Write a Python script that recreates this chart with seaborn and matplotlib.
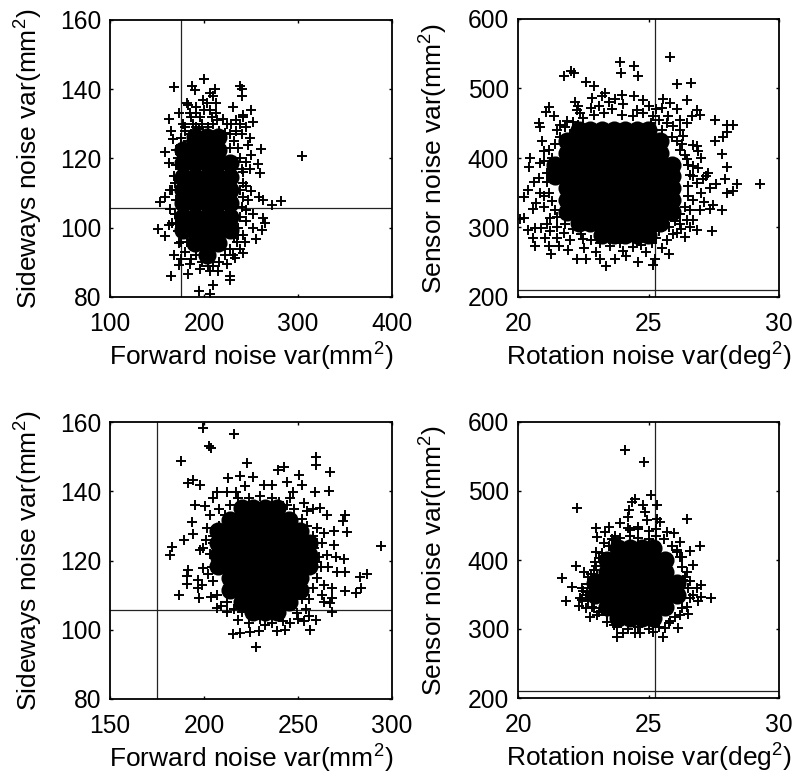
import matplotlib
matplotlib.use("Agg")
import matplotlib.pyplot as plt
import pandas as pd
import seaborn as sns

sns.set_style("white")
plt.rcParams.update({
    "font.family": ["Liberation Sans", "DejaVu Sans"],
    "mathtext.fontset": "custom",
    "mathtext.rm": "Liberation Sans",
    "mathtext.default": "regular",
})

# ---------- data ----------
# scattered, individually visible samples (x, y)
fwd_side_a = [(200,143),(168,140.6),(187,140.8),(190.5,139.8),(238,141),(240,140),(240,138),(212,140),(206.5,138.8),
 (231,135),(250,134),(183,135.5),(173,133),(163,131.4),(252,130.5),(242,132.6),(165,128),(167,125.7),(158.6,122),
 (163,118.6),(261,122.7),(257,118.5),(260,115.8),(304,120.8),(282,107.6),(272,106.6),(263,107.9),(259,109),
 (153,107.3),(158.6,108.8),(164,111),(151.5,99.7),(158,97.7),(163,100.8),(263,102.8),(265,101.3),(261.5,99.4),
 (255.5,96.7),(243.8,95.8),(242,92.6),(233,91.2),(168,92.2),(173.8,89.3),(165,86.2),(183.4,86.6),(228,86.2),(228,85),
 (210,83.5),(195,81.6),(206,81),(182,136),(192,135),(199,137),(210,138),(206,134),(196,132),(188,130),(213,133),
 (224,130),(234,131),(242,132),(245,129),(238,130),(229,130),(249,126),(247,124),(250,121),(245,119),(242,116),
 (249,117),(245,112),(250,110.5),(247,108),(245,105),(252,104),(245,102),(252,100),(242,98),(235,96),(238,94),
 (231,92),(224,89.5),(215,87.5),(206,87.5),(196,88),(185,89.5),(176,91),(173,95.5),(166,101.5),(164,105.5),
 (166,111),(168,115),(170,122.5),(175,126),(178,130),(185,133),(213,136)]
rot_sens_a = [(25.82,546),(23.91,538),(23.95,522),(24.46,532),(24.61,518),(21.75,517.5),(22.03,525),(22.13,523),
 (22.6,510),(22.93,503),(26.08,506.5),(26.61,508),(26.46,483),(21.17,474),(21.07,466),(21.39,461),(20.79,450),
 (20.83,445),(27.54,454),(27.99,448),(28.24,448),(27.99,438),(27.86,430),(27.54,425),(27.8,406),(27.99,387),
 (27.92,370),(28.4,363),(29.29,362),(27.58,363),(28.24,352),(27.99,349),(27.8,325),(27.45,294.5),(27.35,326),
 (27.48,333),(27.12,337),(27.29,378),(27.35,357),(27.03,400),(20.47,400),(20.41,387),(20.38,354.5),(20.22,344),
 (20.57,327),(20.09,312),(20.22,314),(20.38,296),(20.66,299),(20.89,299),(20.56,285),(20.64,274),(21.02,285),
 (21.24,294.5),(21.17,273),(21.26,262),(21.59,273),(21.9,268),(22.25,254),(22.61,254),(23.15,254),(23.38,244),
 (23.72,254),(24.13,258.5),(24.61,251),(25.19,246.5),(25.25,254),(25.8,262),(26.23,298),(23.34,493.5),(22.83,486),
 (23.21,489),(23.72,485),(24.04,477),(24.45,489),(24.78,484),(24.55,469.5),(25.19,460),(25.57,485),(25.82,479),
 (25.5,472),(26.08,470),(25.76,460),(25.95,445.5),(26.84,469.5),(26.97,462),(26.65,460),(26.46,450),(26.33,432),
 (26.71,419),(26.84,417),(20.92,424),(21,410),(21.17,412),(21.62,448),(22.38,465),(22.25,469.5),(21.87,453),
 (21.1,378.5),(20.8,371),(20.85,350),(21.3,338),(21.24,314),(21.75,292),(22,282.5),(22.51,270.5),(23.15,278),
 (23.53,273),(24.04,266),(24.55,282.5),(25.12,278),(25.69,282.5),(26.08,292),(26.4,287),(26.84,297),(26.71,311),
 (26.46,311),(26.97,325.5),(26.71,340),(26.84,364),(27.22,374),(26.71,388),(26.46,398),(26.2,412),(26.7,374),(20.85,393)]
fwd_side_b = [(199.7,158.3),(216.2,156.5),(202.4,153),(203.8,152.5),(187.6,148.6),(222.8,148.1),(259.7,150),(259.7,147.7),
 (239.6,146.2),(242.8,147),(250.3,144.8),(267.2,145.5),(191.7,142.4),(194.3,143.3),(197.9,141.9),(212.5,143.8),
 (219.2,144.3),(226,144.1),(221.9,141.4),(231.7,141.9),(236,141.9),(244,142.8),(252,141.7),(259.2,139.8),(266.3,140.1),
 (206.8,139.8),(212.1,139.8),(217.1,139.8),(195.3,135.9),(200.6,135.6),(275.1,133),(273.7,131.5),(193.5,131.1),
 (194.4,127.6),(276,128.2),(189.4,125.8),(182.8,123.9),(182,121.6),(197.9,123.1),(294.3,124.3),(274.3,120.5),(275.1,116.6),
 (286.7,116.1),(282.8,115.1),(283.5,112),(281,110.5),(275.1,111.2),(191.7,117.3),(191.2,115.4),(190.8,113.2),(186.9,110.1),
 (197,114.4),(197,112),(197.6,109.1),(203.6,109.6),(268,109.1),(267.2,107.7),(268,105.2),(259.7,102.8),(256.5,99.9),
 (253,102.4),(243.2,99.9),(238.8,99.5),(229,99.5),(224.6,99.3),(219.2,99),(215.3,98.8),(227.4,95.1),(218.3,102.8),
 (232.5,101.4),(249.4,104.8),(263.6,113),(270.7,116.8),(269,128.4),(265.4,133.2),(261.8,135.1),(253,136.6),(247.6,139.9),
 (203.3,133.2),(205,138),(201.5,129.3),(199.7,123.6),(199.7,117.8),(206.8,106.2),(212.1,105.2),(258.3,123.6),(265.4,121.6),
 (269,124.5),(260,129.3),(254.7,134.2)]
rot_sens_b = [(24.1,559),(24.83,542),(22.25,476),(25.08,494),(24.48,489),(24.36,484),(24.8,479.5),(24.87,470),(25.31,479.5),
 (24.25,472),(24.23,463),(24.93,458),(25.31,460),(25.44,455),(23.91,453),(23.47,448),(23.34,441),(22.98,446),(23.04,434),
 (24.23,446),(24.61,448),(26.46,459),(25.69,441),(25.98,438.5),(26.2,426.5),(26.97,420),(26.59,413),(26.27,405),(22.99,412),
 (22.96,397.6),(22.23,392),(22.51,383),(22.7,376),(21.68,373.5),(22.06,360.5),(22.45,360),(21.82,340),(22.32,333.5),
 (22.45,342),(22.76,318),(22.83,332.5),(26.71,393),(26.33,371),(27.03,364),(26.84,359),(27.03,347),(27.38,345.5),(26.9,340),
 (26.52,321.5),(26.46,332.5),(26.14,301),(25.63,301),(25.54,288),(25.16,296),(24.68,294),(24.48,294),(24.04,294),(23.81,289),
 (23.66,306),(23.02,320.5),(23.4,320.5),(26.2,320.5),(26.71,349),(26.46,383),(26.08,412),(23.66,429),(23.02,378),(22.64,354),
 (22.38,344.5),(25.82,311)]

# samples in the crowded band between the saturated core and the loose edge
band_fs_a = [(180,128),(186,127),(192,129),(198,130),(204,129),(210,130),(216,128),(222,127.5),(228,127),(234,128),(240,127),
 (186,132),(192,133),(200,134),(208,132),(214,131),(220,131.5),(203,136),(195,128.5),(183,125),(176,124),(172,120),(170,118),
 (169,113),(170,108),(169,104),(172,99),(176,96),(180,93),(186,91),(192,92),(198,90),(204,89),(210,89),(216,90),(222,92),
 (228,94),(232,97),(236,100),(238,103),(240,106),(241,109),(242,113),(240,117),(238,120),(236,123),(232,125),(228,123),
 (234,119),(238,111),(236,98),(182,96),(176,101),(170,101),(180,129)]
band_rs_a = [(21.5,440),(21.8,445),(22.1,452),(22.5,458),(22.9,462),(23.3,465),(23.6,470),(23.1,475),(22.8,472),(24.0,462),
 (24.4,460),(24.8,465),(25.1,450),(25.4,455),(25.7,450),(25.5,440),(25.9,430),(26.1,425),(26.3,420),(26.4,405),(26.5,390),
 (26.6,375),(26.5,360),(26.5,345),(26.4,330),(26.2,320),(26.0,310),(25.8,300),(25.4,295),(25,290),(25.3,285),(24.7,275),
 (24.4,272),(23.9,278),(23.5,283),(23.1,287),(22.8,282),(22.4,290),(22.1,298),(21.8,305),(21.5,315),(21.4,325),(21.2,350),
 (21.1,365),(21.0,395),(21.3,400),(21.4,420),(21.6,430),(22.0,435),(22.3,448),(20.6,365),(20.7,335),(21,330),(21.1,305),
 (21.5,300),(27,350),(26.9,385),(27.1,370),(26.6,325),(26.6,300),(26.2,305),(25.95,290),(25.5,270),(23,265),(22.5,283),
 (24.9,265),(21.5,285),(21.0,345),(26.9,410),(26.2,440),(26.2,455),(25.3,470),(25,475),(24,490),(23.5,480),(22.2,480),(22.3,475)]
band_fs_b = [(201,126),(203,122),(204,118),(205,114),(207,110),(209,107),(212,108),(208,130),(211,133),(214,136),(218,138),
 (224,138),(230,138.5),(236,138),(240,137),(244,136),(248,135),(252,132),(255,130),(258,127),(260,125),(261,121),(262,118),
 (260,115),(258,112),(256,109),(254,106),(250,103),(246,102),(242,102.5),(236,102),(230,103),(224,102),(220,105),(216,106),
 (263,125),(266,118),(268,112),(264,108),(270,121),(205,125),(202,116),(199,113),(205,127),(208,135),(264,128),(258,135),
 (246,138),(260,119.5),(256,104),(263,110),(252,109),(208,121)]
band_rs_b = [(23.6,430),(23.9,432),(24.3,435),(24.6,432),(25,430),(25.3,435),(25.6,430),(25.9,420),(26.2,405),(26.3,390),
 (26.4,375),(26.5,360),(26.3,345),(26.3,330),(26,318),(25.8,308),(25.4,303),(25,300),(24.6,303),(24.2,300),(23.8,303),
 (23.4,310),(23.1,325),(22.9,330),(22.7,340),(22.6,350),(22.7,365),(22.8,380),(23,392),(23.2,410),(23.5,420),(23.4,400),
 (24.6,445),(25,442),(24.3,443),(25.3,445),(26.1,415),(26.6,370),(26.6,345),(22.5,355),(23.1,403),(22.9,385),(23.3,425),
 (23.7,435),(22.6,330)]

# saturated core of each cloud, as sample rows {y: [x, ...]}
core_fs_a = {
 126.3: [190.5,203,215.4],
 122.5: [178,190.5,203,215.4],
 118.6: [178,190.5,203,215.4,227.8],
 114.8: [178,190.5,203,215.4,227.8],
 110.9: [178,190.5,203,215.4,227.8],
 107.1: [178,190.5,203,215.4,227.8],
 103.2: [178,190.5,203,215.4,227.8],
 99.4:  [178,190.5,203,215.4,227.8],
 95.5:  [190.5,203,215.4],
 92.2:  [203],
}
core_rs_a = {
 440.8: [22.32,22.76,23.21,23.66,24.1,24.55,24.99],
 424.0: [21.87,22.32,22.76,23.21,23.66,24.1,24.55,24.99,25.44],
 407.0: [21.87,22.32,22.76,23.21,23.66,24.1,24.55,24.99,25.44],
 390.4: [21.43,21.87,22.32,22.76,23.21,23.66,24.1,24.55,24.99,25.44,25.89],
 373.6: [21.43,21.87,22.32,22.76,23.21,23.66,24.1,24.55,24.99,25.44,25.89],
 356.8: [21.87,22.32,22.76,23.21,23.66,24.1,24.55,24.99,25.44,25.89],
 340.0: [21.87,22.32,22.76,23.21,23.66,24.1,24.55,24.99,25.44,25.89],
 323.0: [21.87,22.32,22.76,23.21,23.66,24.1,24.55,24.99,25.44,25.89],
 306.5: [22.32,22.76,23.21,23.66,24.1,24.55,24.99,25.44],
 289.7: [23.21,23.66,24.1,24.55,24.99],
}
core_fs_b = {
 135.1: [220.1,226.3,232.5,238.8],
 131.8: [213.9,220.1,226.3,232.5,238.8,245],
 128.4: [207.7,213.9,220.1,226.3,232.5,238.8,245,251.2],
 125.0: [207.7,213.9,220.1,226.3,232.5,238.8,245,251.2,255.6],
 121.6: [207.7,213.9,220.1,226.3,232.5,238.8,245,251.2,255.6],
 118.3: [207.7,213.9,220.1,226.3,232.5,238.8,245,251.2,255.6],
 114.9: [213.9,220.1,226.3,232.5,238.8,245,251.2],
 111.5: [213.9,220.1,226.3,232.5,238.8,245,251.2],
 108.1: [220.1,226.3,232.5,238.8,245],
 105.2: [226.3,232.5,238.8],
}
core_rs_b = {
 417.0: [23.85,24.29,24.74,25.19],
 400.0: [23.4,23.85,24.29,24.74,25.19,25.63],
 383.0: [23.4,23.85,24.29,24.74,25.19,25.63],
 366.0: [22.96,23.4,23.85,24.29,24.74,25.19,25.63,26.08],
 349.0: [22.96,23.4,23.85,24.29,24.74,25.19,25.63,26.08],
 332.5: [23.4,23.85,24.29,24.74,25.19,25.63],
 315.6: [23.85,24.29,24.74,25.19],
}

forward_true = 175
sideways_true = 105.8
rotation_true = 25.25
sensor_true = 210

xlabel_fs = "Forward noise var(mm$^2$)"
ylabel_fs = "Sideways noise var(mm$^2$)"
xlabel_rs = "Rotation noise var(deg$^2$)"
ylabel_rs = "Sensor noise var(mm$^2$)"

xticks_fs_a = [100, 200, 300, 400]
xticks_fs_b = [150, 200, 250, 300]
yticks_fs = [80, 100, 120, 140, 160]
xticks_rs = [20, 25, 30]
yticks_rs = [200, 300, 400, 500, 600]

# ---------- drawing ----------
W, H = 797, 781
fig = plt.figure(figsize=(W / 100, H / 100), dpi=100)


def panel(box, pts, band, core, xt, yt, xl, yl, vx, hy, ylabel_px):
    l, t, r, b = box
    ax = fig.add_axes([l / W, 1 - b / H, (r - l) / W, (b - t) / H])
    core_df = pd.DataFrame([(x, y) for y, xs in core.items() for x in xs], columns=["x", "y"])
    pts_df = pd.DataFrame(pts + band, columns=["x", "y"])
    sns.scatterplot(data=core_df, x="x", y="y", ax=ax, marker="o", s=170, color="black", linewidth=0, zorder=3)
    sns.scatterplot(data=pts_df, x="x", y="y", ax=ax, marker="+", s=46, color="black", linewidth=1.4, zorder=3)
    ax.axvline(vx, color="#222222", lw=0.9, zorder=2)
    ax.axhline(hy, color="#222222", lw=0.9, zorder=2)
    ax.set_xlim(xt[0], xt[-1])
    ax.set_ylim(yt[0], yt[-1])
    ax.set_xticks(xt)
    ax.set_yticks(yt)
    ax.tick_params(axis="both", direction="in", length=2.5, width=1, top=True, right=True, bottom=True, left=True,
                   labelsize=17.7, colors="black")
    ax.tick_params(axis="x", pad=11)
    ax.tick_params(axis="y", pad=6.5)
    ax.set_xlabel(xl, fontsize=19, color="black")
    ax.set_ylabel(yl, fontsize=19, color="black")
    ax.xaxis.set_label_coords(0.5, -44 / (b - t))
    ax.yaxis.set_label_coords((ylabel_px - l) / (r - l), 0.5)
    for s in ax.spines.values():
        s.set_visible(True)
        s.set_color("black")
        s.set_linewidth(1.3)
    return ax


panel((110, 20, 392, 297), fwd_side_a, band_fs_a, core_fs_a, xticks_fs_a, yticks_fs, xlabel_fs, ylabel_fs, forward_true, sideways_true, 45)
panel((518, 19, 779, 297), rot_sens_a, band_rs_a, core_rs_a, xticks_rs, yticks_rs, xlabel_rs, ylabel_rs, rotation_true, sensor_true, 450)
panel((110, 422, 392, 699), fwd_side_b, band_fs_b, core_fs_b, xticks_fs_b, yticks_fs, xlabel_fs, ylabel_fs, forward_true, sideways_true, 45)
panel((518, 422, 779, 698), rot_sens_b, band_rs_b, core_rs_b, xticks_rs, yticks_rs, xlabel_rs, ylabel_rs, rotation_true, sensor_true, 450)

fig.savefig("out.png", dpi=100, facecolor="white")
